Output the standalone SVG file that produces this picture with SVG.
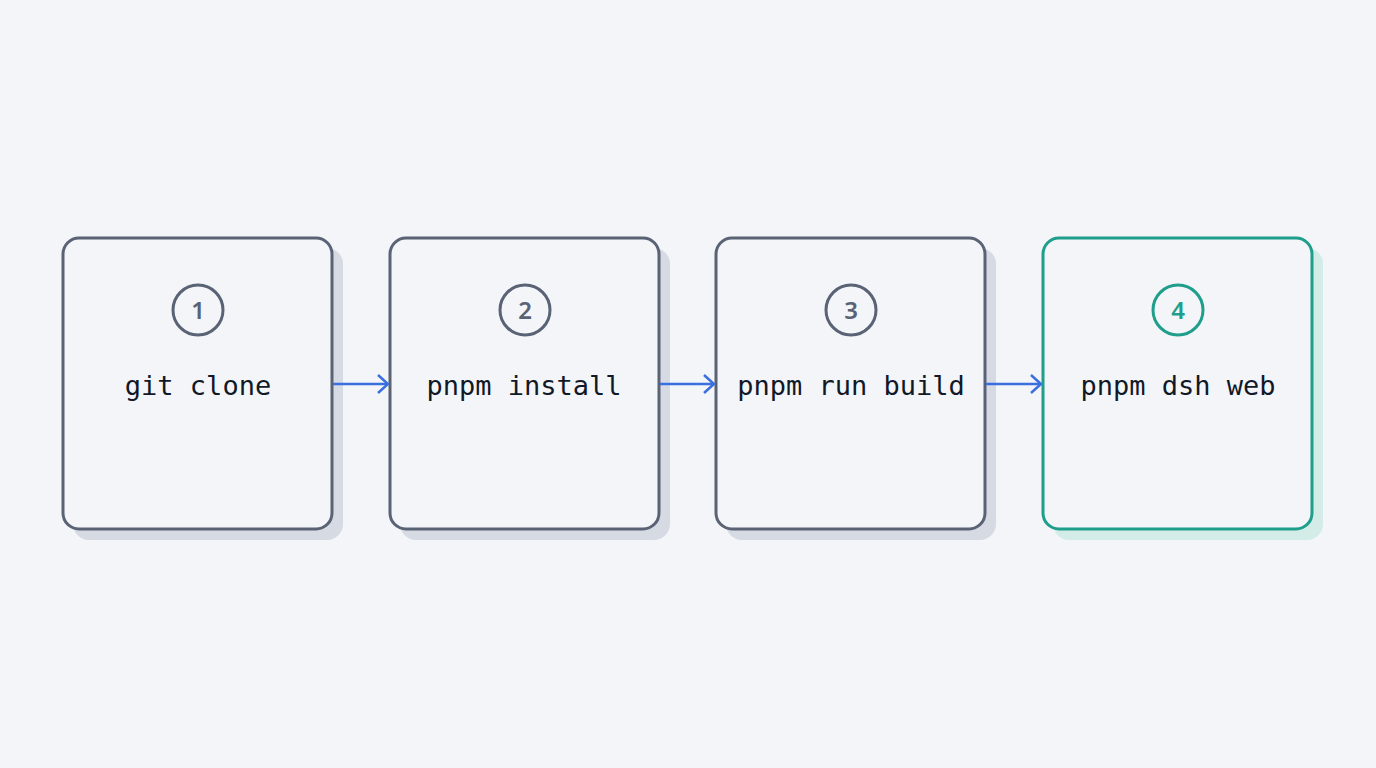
<svg xmlns="http://www.w3.org/2000/svg" width="1376" height="768" viewBox="0 0 1376 768">
<style>
.box{fill:#f3f5f8;stroke:#5a6275;stroke-width:3}
.sh{fill:#d6dae3}
.num{fill:none;stroke:#5a6275;stroke-width:3}
.nt{font-family:"Noto Sans","Liberation Sans",sans-serif;font-size:24px;font-weight:600;fill:#5a6275;text-anchor:middle}
.lbl{font-family:"DejaVu Sans Mono","Liberation Mono",monospace;font-size:27px;fill:#111827;text-anchor:middle}
.g .box,.g .num{stroke:#1f9e8c}
.g .sh{fill:#d3ece8}
.g .nt{fill:#1f9e8c}
.c{stroke:#3b6fe0;stroke-width:2.5;fill:none}
</style>
<defs><marker id="a" viewBox="0 0 12 20" refX="11" refY="10" markerWidth="12" markerHeight="20" markerUnits="userSpaceOnUse" orient="auto"><path d="M1 1 L11 10 L1 19" fill="none" stroke="#3b6fe0" stroke-width="2.5"/></marker></defs>
<rect width="1376" height="768" fill="#f3f5f8"/>
<g id="n1"><rect class="sh" x="73" y="248" width="270" height="292" rx="16"/><rect class="box" x="63" y="238" width="269" height="291" rx="16"/><circle class="num" cx="198" cy="310" r="25"/><text class="nt" x="198" y="319">1</text><text class="lbl" x="198" y="395">git clone</text></g>
<g id="n2"><rect class="sh" x="400" y="248" width="270" height="292" rx="16"/><rect class="box" x="390" y="238" width="269" height="291" rx="16"/><circle class="num" cx="525" cy="310" r="25"/><text class="nt" x="525" y="319">2</text><text class="lbl" x="524" y="395">pnpm install</text></g>
<g id="n3"><rect class="sh" x="726" y="248" width="270" height="292" rx="16"/><rect class="box" x="716" y="238" width="269" height="291" rx="16"/><circle class="num" cx="851" cy="310" r="25"/><text class="nt" x="851" y="319">3</text><text class="lbl" x="851" y="395">pnpm run build</text></g>
<g id="n4" class="g"><rect class="sh" x="1053" y="248" width="270" height="292" rx="16"/><rect class="box" x="1043" y="238" width="269" height="291" rx="16"/><circle class="num" cx="1178" cy="310" r="25"/><text class="nt" x="1178" y="319">4</text><text class="lbl" x="1178" y="395">pnpm dsh web</text></g>
<g id="connectors">
<line class="c" x1="333" y1="384" x2="388" y2="384" marker-end="url(#a)"/>
<line class="c" x1="660" y1="384" x2="714" y2="384" marker-end="url(#a)"/>
<line class="c" x1="986" y1="384" x2="1041" y2="384" marker-end="url(#a)"/>
</g>
</svg>
